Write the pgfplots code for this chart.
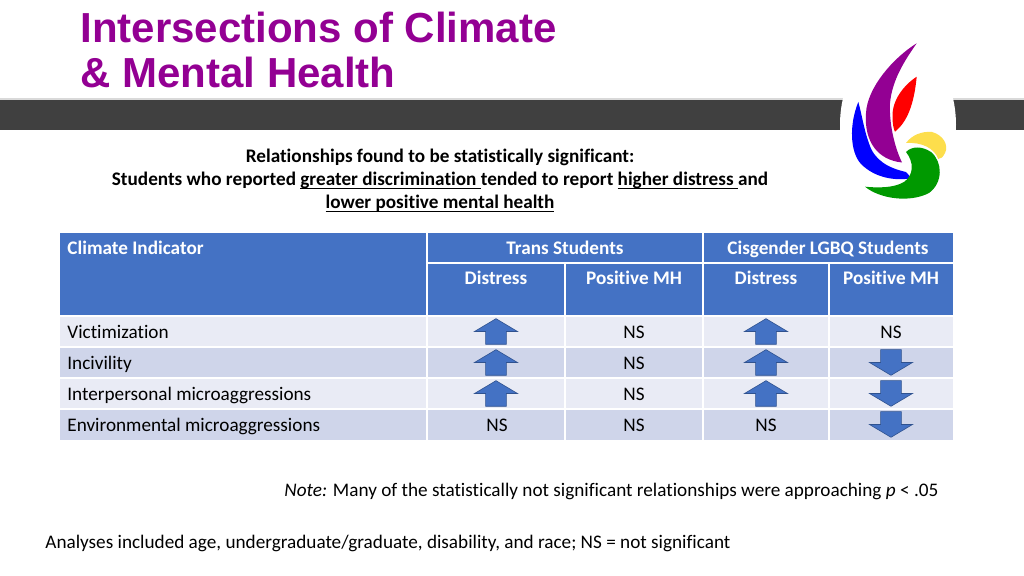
\documentclass[border=0pt]{standalone}
\usepackage{pgfplots}
\pgfplotsset{compat=1.18}
\usepackage{fontspec}
\setmainfont{Carlito}[Ligatures=CommonOff]
\newfontfamily\titlefont{Liberation Sans}
\definecolor{ttl}{HTML}{930093}
\definecolor{hdr}{HTML}{4472C4}
\definecolor{rowa}{HTML}{E9EBF5}
\definecolor{rowb}{HTML}{CFD5EA}
\definecolor{bar}{HTML}{404040}
\definecolor{arr}{HTML}{4472C4}
\definecolor{arrd}{HTML}{2F528F}
\newcommand{\body}{\fontsize{9.6}{11}\selectfont}
\newcommand{\ul}[1]{\setbox0\hbox{#1}\rlap{\rule[-1.5pt]{\wd0}{0.5pt}}\box0}
\pgfdeclareplotmark{uparrow}{%
 \pgfpathmoveto{\pgfpoint{0pt}{6.4pt}}%
 \pgfpathlineto{\pgfpoint{-10.75pt}{0pt}}%
 \pgfpathlineto{\pgfpoint{-5.2pt}{0pt}}%
 \pgfpathlineto{\pgfpoint{-5.2pt}{-6.4pt}}%
 \pgfpathlineto{\pgfpoint{5.2pt}{-6.4pt}}%
 \pgfpathlineto{\pgfpoint{5.2pt}{0pt}}%
 \pgfpathlineto{\pgfpoint{10.75pt}{0pt}}%
 \pgfpathclose
 \pgfusepathqfillstroke}
\pgfdeclareplotmark{downarrow}{%
 \pgfpathmoveto{\pgfpoint{0pt}{-6.4pt}}%
 \pgfpathlineto{\pgfpoint{-10.75pt}{0pt}}%
 \pgfpathlineto{\pgfpoint{-5.2pt}{0pt}}%
 \pgfpathlineto{\pgfpoint{-5.2pt}{6.4pt}}%
 \pgfpathlineto{\pgfpoint{5.2pt}{6.4pt}}%
 \pgfpathlineto{\pgfpoint{5.2pt}{0pt}}%
 \pgfpathlineto{\pgfpoint{10.75pt}{0pt}}%
 \pgfpathclose
 \pgfusepathqfillstroke}
\pgfdeclareplotmark{ns}{\pgftext{\color{black}\body NS}}
\begin{document}
\begin{tikzpicture}
\begin{axis}[width=512pt, height=288pt, scale only axis,
  xmin=0, xmax=1024, ymin=0, ymax=576, y dir=reverse,
  hide axis, clip=false]
% background
\fill[white] (axis cs:0,0) rectangle (axis cs:1024,576);
% dark bar
\fill[black!15] (axis cs:0,98) rectangle (axis cs:1024,100);
\fill[bar] (axis cs:0,100) rectangle (axis cs:1024,130);
% logo backdrop
\fill[white] (axis cs:898,125) ellipse [x radius=29pt, y radius=42pt];
% logo
\fill[ttl] (axis cs:916.7,43.3) .. controls (axis cs:893,58) and (axis cs:867,88) .. (axis cs:866,113.3)
   .. controls (axis cs:864,142) and (axis cs:878,160) .. (axis cs:902,162.5)
   .. controls (axis cs:894,146) and (axis cs:889,122) .. (axis cs:890,103.3)
   .. controls (axis cs:892,80) and (axis cs:905,60) .. cycle;
\fill[red] (axis cs:916.7,76.7) .. controls (axis cs:904,85) and (axis cs:892,100) .. (axis cs:892.5,116.7)
   .. controls (axis cs:892.5,125) and (axis cs:894,130) .. (axis cs:895,131.7)
   .. controls (axis cs:907,122) and (axis cs:914,105) .. cycle;
\fill[blue] (axis cs:858.3,102) .. controls (axis cs:849,125) and (axis cs:850,152) .. (axis cs:861,164)
   .. controls (axis cs:875,178) and (axis cs:895,181) .. (axis cs:911,178.3)
   .. controls (axis cs:909,175) and (axis cs:907,173) .. (axis cs:906,172)
   .. controls (axis cs:888,168) and (axis cs:874,160) .. (axis cs:869,143.3)
   .. controls (axis cs:864,130) and (axis cs:862,115) .. cycle;
\fill[green!60!black] (axis cs:865,186.7) .. controls (axis cs:880,199) and (axis cs:910,203) .. (axis cs:929,193)
   .. controls (axis cs:943,183) and (axis cs:943,162) .. (axis cs:931,152)
   .. controls (axis cs:922,146) and (axis cs:912,146) .. (axis cs:906,152)
   .. controls (axis cs:914,162) and (axis cs:914,175) .. (axis cs:904,182)
   .. controls (axis cs:894,188) and (axis cs:878,188) .. cycle;
\fill[yellow!70!orange!70] (axis cs:906,143) .. controls (axis cs:912,135) and (axis cs:922,131) .. (axis cs:932,132)
   .. controls (axis cs:943,135) and (axis cs:949,145) .. (axis cs:945,153)
   .. controls (axis cs:943,157) and (axis cs:941,159) .. (axis cs:938.3,159)
   .. controls (axis cs:934,148) and (axis cs:922,142) .. cycle;
% title
\node[anchor=base west, text=ttl, font=\titlefont\bfseries\fontsize{21}{23}\selectfont, inner sep=0pt] at (axis cs:80,43) {Intersections of Climate};
\node[anchor=base west, text=ttl, font=\titlefont\bfseries\fontsize{21}{23}\selectfont, inner sep=0pt] at (axis cs:80,88) {\& Mental Health};
% subtitle
\node[anchor=base, font=\body\bfseries, inner sep=0pt] at (axis cs:440,163) {Relationships found to be statistically significant:};
\node[anchor=base, font=\body\bfseries, inner sep=0pt] at (axis cs:440,186) {Students who reported \ul{greater discrimination\ }tended to report \ul{higher distress\ }and};
\node[anchor=base, font=\body\bfseries, inner sep=0pt] at (axis cs:440,209) {\ul{lower positive mental health}};
% table backgrounds
\fill[hdr] (axis cs:60,233) rectangle (axis cs:953,316);
\fill[rowa] (axis cs:60,316) rectangle (axis cs:953,347);
\fill[rowb] (axis cs:60,347) rectangle (axis cs:953,378);
\fill[rowa] (axis cs:60,378) rectangle (axis cs:953,409);
\fill[rowb] (axis cs:60,409) rectangle (axis cs:953,440);
% grid lines
\draw[white, line width=1pt] (axis cs:427,263) -- (axis cs:953,263);
\draw[white, line width=1.2pt] (axis cs:60,316) -- (axis cs:953,316);
\draw[white, line width=0.8pt] (axis cs:60,347) -- (axis cs:953,347);
\draw[white, line width=0.8pt] (axis cs:60,378) -- (axis cs:953,378);
\draw[white, line width=0.8pt] (axis cs:60,409) -- (axis cs:953,409);
\draw[white, line width=0.8pt] (axis cs:427,233) -- (axis cs:427,440);
\draw[white, line width=0.8pt] (axis cs:703,233) -- (axis cs:703,440);
\draw[white, line width=0.8pt] (axis cs:565,263) -- (axis cs:565,440);
\draw[white, line width=0.8pt] (axis cs:829,263) -- (axis cs:829,440);
% header text
\node[anchor=base west, text=white, font=\body\bfseries, inner sep=0pt] at (axis cs:67,255) {Climate Indicator};
\node[anchor=base, text=white, font=\body\bfseries, inner sep=0pt] at (axis cs:565,255) {Trans Students};
\node[anchor=base, text=white, font=\body\bfseries, inner sep=0pt] at (axis cs:828,255) {Cisgender LGBQ Students};
\node[anchor=base, text=white, font=\body\bfseries, inner sep=0pt] at (axis cs:496,285) {Distress};
\node[anchor=base, text=white, font=\body\bfseries, inner sep=0pt] at (axis cs:634,285) {Positive MH};
\node[anchor=base, text=white, font=\body\bfseries, inner sep=0pt] at (axis cs:766,285) {Distress};
\node[anchor=base, text=white, font=\body\bfseries, inner sep=0pt] at (axis cs:891,285) {Positive MH};
% row labels
\node[anchor=base west, font=\body, inner sep=0pt] at (axis cs:67,339) {Victimization};
\node[anchor=base west, font=\body, inner sep=0pt] at (axis cs:67,370) {Incivility};
\node[anchor=base west, font=\body, inner sep=0pt] at (axis cs:67,401) {Interpersonal microaggressions};
\node[anchor=base west, font=\body, inner sep=0pt] at (axis cs:67,432) {Environmental microaggressions};
% data: up arrows
\addplot[only marks, mark=uparrow, fill=arr, draw=arrd, line width=0.3pt] coordinates {
 (496,331.5) (496,362.5) (496,393.5)
 (766,331.5) (766,362.5) (766,393.5)};
% down arrows
\addplot[only marks, mark=downarrow, fill=arr, draw=arrd, line width=0.3pt] coordinates {
 (891,362.5) (891,393.5) (891,424.5)};
% NS
\addplot[only marks, mark=ns] coordinates {
 (634,332.5) (634,363.5) (634,394.5) (634,425.5)
 (891,332.5) (497,425.5) (766,425.5)};
% notes
\node[anchor=base west, font=\body, inner sep=0pt] at (axis cs:284,497) {\textit{Note:} Many of the statistically not significant relationships were approaching \textit{p} < .05};
\node[anchor=base west, font=\body, inner sep=0pt] at (axis cs:45,549) {Analyses included age, undergraduate/graduate, disability, and race; NS = not significant};
\end{axis}
\end{tikzpicture}
\end{document}
